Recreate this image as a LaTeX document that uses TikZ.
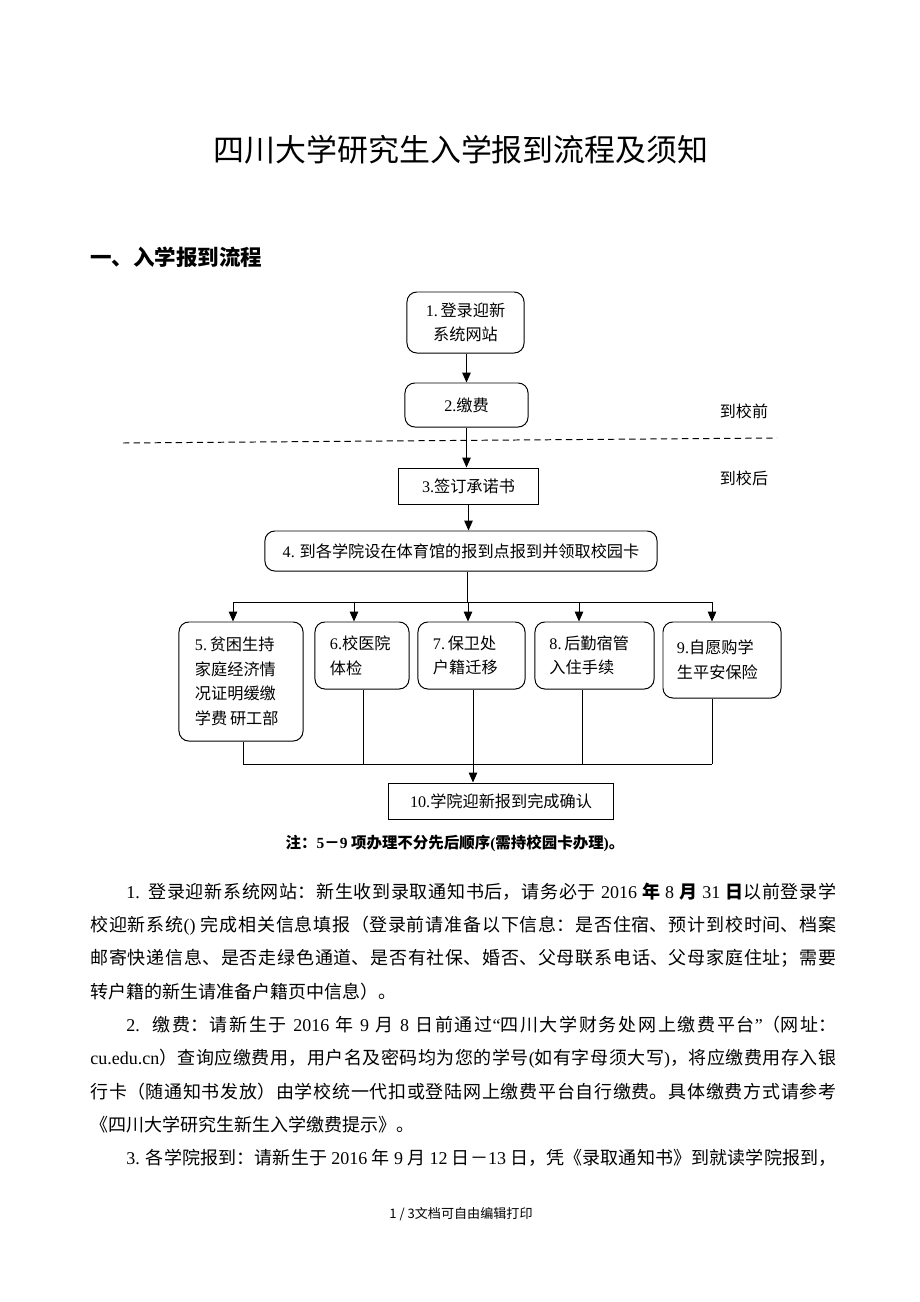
\documentclass[tikz,border=0pt]{standalone}
\usepackage{fontspec}
\setmainfont{Noto Sans CJK SC}
\newfontfamily\latinfont{Liberation Serif}
\newcommand{\lt}[1]{{\latinfont #1}}
\usetikzlibrary{arrows.meta}
\XeTeXlinebreaklocale "zh"
\XeTeXlinebreakskip=0pt plus 1pt minus 0.05pt

\newcommand{\boxfont}{\fontsize{11.5}{17.5}\selectfont}
\newcommand{\bodyfont}{\fontsize{12.8}{16}\selectfont}

\tikzset{
    box/.style={draw, line width=0.7pt, inner sep=0pt, font=\boxfont, align=center},
    rbox/.style={box, rounded corners=7pt},
    lbox/.style={rbox, align=left},
    arr/.style={line width=0.7pt, -{Triangle[length=7pt,width=6pt]}},
    ln/.style={line width=0.7pt},
    line/.style={anchor=west, inner sep=0pt, text width=18.65cm, align=justify, font=\bodyfont},
    jline/.style={line, execute at begin node={\parfillskip=0pt}}
}

\begin{document}
\begin{tikzpicture}[x=0.025cm, y=-0.025cm]
    \fill[white] (0,0) rectangle (920,1302);
    \useasboundingbox (0,0) rectangle (920,1302);

    % headings
    \node[font=\fontsize{22}{26}\selectfont] (title) at (461,150) {四川大学研究生入学报到流程及须知};
    \node[anchor=west, inner sep=0pt, font=\fontsize{15.3}{18}\selectfont\bfseries] (head) at (90,257) {一、入学报到流程};

    % flow chart
    \node[rbox, minimum width=2.925cm, minimum height=1.525cm] (b1) at (465.5,322.5) {\lt{1.}\,登录迎新\\系统网站};
    \node[rbox, minimum width=3.075cm, minimum height=1.1cm] (b2) at (466.5,405) {\lt{2.}缴费};
    \node[box, minimum width=3.475cm, minimum height=0.9cm] (b3) at (468.5,486) {\lt{3.}签订承诺书};
    \node[rbox, minimum width=9.8cm, minimum height=1.0cm] (b4) at (461,551) {\lt{4.} 到各学院设在体育馆的报到点报到并领取校园卡};

    \node[lbox, minimum width=3.1cm, minimum height=2.975cm, text width=2.3cm] (b5) at (241,681.5)
        {\lt{5.}\,贫困生持\\家庭经济情\\况证明缓缴\\学费\,研工部};
    \node[lbox, minimum width=2.35cm, minimum height=1.675cm, text width=1.6cm] (b6) at (362,655.5) {\lt{6.}校医院\\体检};
    \node[lbox, minimum width=2.675cm, minimum height=1.675cm, text width=1.925cm] (b7) at (471.5,655.5) {\lt{7.}\,保卫处\\户籍迁移};
    \node[lbox, minimum width=2.975cm, minimum height=1.675cm, text width=2.25cm] (b8) at (594.5,655.5) {\lt{8.}\,后勤宿管\\入住手续};
    \node[lbox, minimum width=2.95cm, minimum height=1.9cm, text width=2.25cm] (b9) at (722,660) {\lt{9.}自愿购学\\生平安保险};

    \node[box, minimum width=5.6cm, minimum height=0.9cm] (b10) at (501,801) {\lt{10.}学院迎新报到完成确认};

    \node[font=\fontsize{11.4}{14}\selectfont] (before) at (744,411) {到校前};
    \node[font=\fontsize{11.4}{14}\selectfont] (after) at (744,478) {到校后};
    \coordinate (dl) at (123,443);
    \coordinate (dr) at (777,438);
    \draw[ln, dash pattern=on 4.5pt off 3pt] (dl) -- (dr);

    \draw[arr] (b2.north |- b1.south) -- (b2.north);
    \draw[arr] (b2.south) -- (b2.south |- b3.north);
    \draw[arr] (b3.south) -- (b3.south |- b4.north);

    \coordinate (fork) at (467,602);
    \draw[ln] (fork |- b4.south) -- (fork);
    \foreach \n/\x in {5/233,6/354,7/468,8/579,9/712}
        \coordinate (a\n) at (\x,602);
    \draw[ln] (a5) -- (a9);
    \foreach \n in {5,...,9}
        \draw[arr] (a\n) -- (a\n |- b\n.north);

    \foreach \n/\x in {5/243,6/363,7/473,8/582,9/712} {
        \coordinate (m\n) at (\x,764);
        \draw[ln] (m\n |- b\n.south) -- (m\n);
    }
    \draw[ln] (m5) -- (m9);
    \draw[arr] (m7) -- (m7 |- b10.north);

    \node[font=\fontsize{11}{14}\selectfont\bfseries] (note) at (455,843)
        {注：\lt{5}－\lt{9} 项办理不分先后顺序\lt{(}需持校园卡办理\lt{)}。};

    % body text
    \node[jline] (p1) at (90,892) {\hspace*{2em}\lt{1.} 登录迎新系统网站：新生收到录取通知书后，请务必于 \lt{2016} \textbf{年} \lt{8} \textbf{月} \lt{31} \textbf{日}以前登录学};
    \node[jline] (p2) at (90,925.5) {校迎新系统\lt{()} 完成相关信息填报（登录前请准备以下信息：是否住宿、预计到校时间、档案};
    \node[jline] (p3) at (90,958.5) {邮寄快递信息、是否走绿色通道、是否有社保、婚否、父母联系电话、父母家庭住址；需要};
    \node[line] (p4) at (90,991.8) {转户籍的新生请准备户籍页中信息）。};
    \node[jline] (p5) at (90,1025) {\hspace*{2em}\lt{2.} 缴费：请新生于 \lt{2016} 年 \lt{9} 月 \lt{8} 日前通过\lt{“}四川大学财务处网上缴费平台\lt{”}（网址：};
    \node[jline] (p6) at (90,1058.2) {\lt{cu.edu.cn}）查询应缴费用，用户名及密码均为您的学号\lt{(}如有字母须大写\lt{)}，将应缴费用存入银};
    \node[jline] (p7) at (90,1091.4) {行卡（随通知书发放）由学校统一代扣或登陆网上缴费平台自行缴费。具体缴费方式请参考};
    \node[line] (p8) at (90,1124.6) {《四川大学研究生新生入学缴费提示》。};
    \node[jline] (p9) at (90,1157.8) {\hspace*{2em}\lt{3.} 各学院报到：请新生于 \lt{2016} 年 \lt{9} 月 \lt{12} 日－\lt{13} 日，凭《录取通知书》到就读学院报到，};

    \node[font=\fontsize{9.3}{11}\selectfont] (foot) at (461,1214) {1 / 3文档可自由编辑打印};
\end{tikzpicture}
\end{document}
